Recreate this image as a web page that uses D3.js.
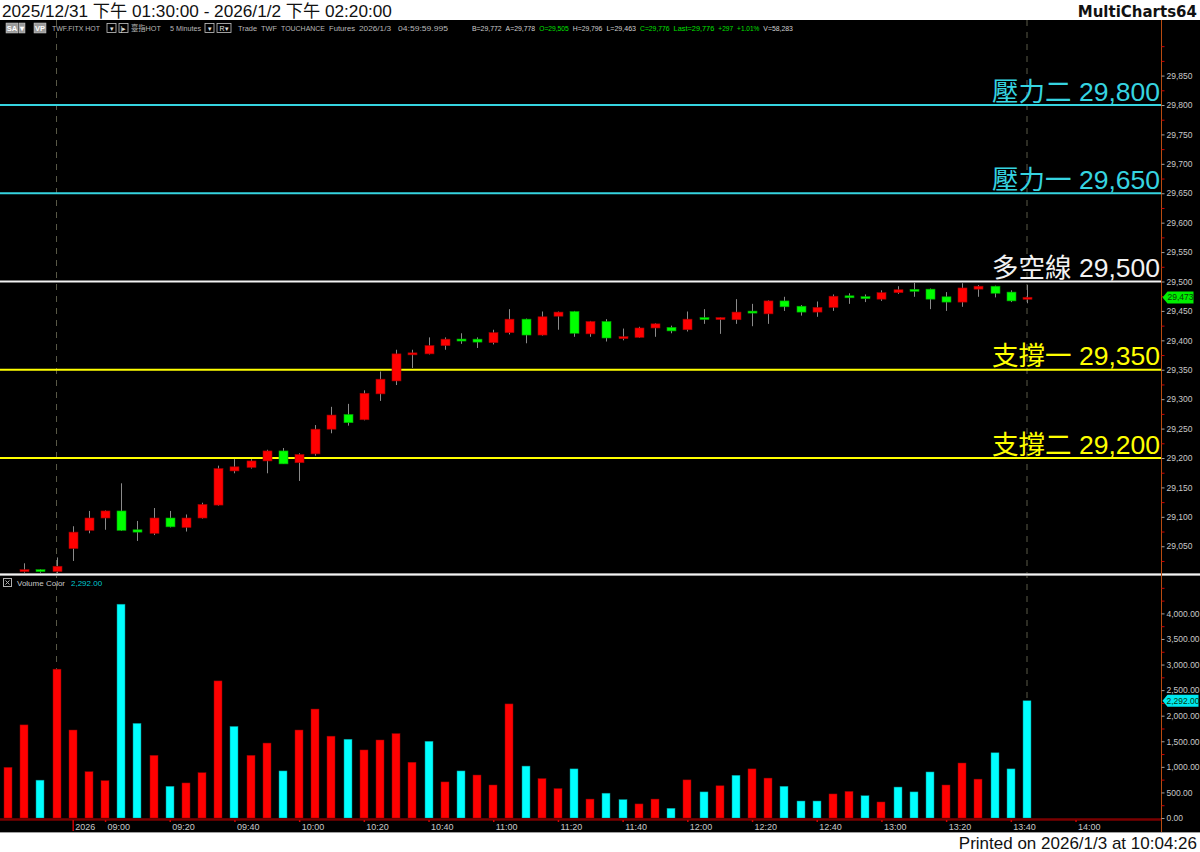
<!DOCTYPE html>
<html><head><meta charset="utf-8">
<script src="https://cdn.jsdelivr.net/npm/d3@7/dist/d3.min.js"></script>
<style>
html,body{margin:0;padding:0;background:#fff;}
svg{display:block;}
</style></head><body>
<svg id="chart" width="1200" height="852"></svg>
<script>
// ---- data ----
const opens  = [28992,29007,29010,29007,29046,29077,29098,29110,29078,29072,29098,29082,29098,29120,29178,29184,29195,29212,29192,29207,29249,29274,29265,29309,29331,29376,29377,29391,29402,29402,29396,29413,29436,29409,29441,29449,29411,29432,29403,29405,29421,29422,29418,29438,29436,29435,29449,29445,29467,29458,29448,29456,29475,29474,29470,29481,29486,29487,29474,29465,29487,29492,29482,29470];
const highs  = [29003,29021,29011,29031,29084,29110,29111,29157,29093,29115,29110,29104,29124,29187,29198,29198,29214,29217,29208,29256,29287,29292,29315,29347,29384,29384,29405,29405,29412,29405,29418,29453,29437,29449,29449,29450,29433,29436,29420,29423,29429,29425,29449,29453,29439,29470,29462,29468,29474,29460,29466,29478,29480,29478,29485,29492,29498,29488,29482,29497,29494,29493,29485,29494];
const lows   = [28985,29005,29005,29004,29025,29072,29078,29076,29059,29069,29082,29075,29097,29119,29174,29182,29174,29190,29161,29204,29242,29255,29264,29297,29324,29353,29376,29384,29394,29387,29393,29410,29395,29408,29418,29406,29406,29398,29400,29404,29406,29412,29415,29428,29411,29428,29424,29428,29450,29442,29440,29450,29462,29465,29467,29479,29474,29453,29450,29457,29474,29473,29465,29463];
const closes = [29000,29010,29007,29016,29074,29098,29110,29077,29074,29098,29083,29098,29121,29182,29185,29195,29212,29190,29206,29249,29273,29260,29310,29334,29377,29378,29391,29402,29399,29397,29413,29436,29409,29440,29448,29412,29432,29404,29406,29421,29428,29416,29436,29436,29438,29448,29447,29467,29457,29448,29456,29475,29473,29471,29481,29486,29484,29470,29465,29489,29492,29480,29467,29473];
const volumes = [990,1820,740,2910,1720,905,730,4180,1850,1225,620,685,885,2680,1790,1225,1465,920,1720,2130,1600,1540,1330,1525,1650,1090,1500,705,920,840,645,2230,1015,770,575,960,370,485,360,275,370,190,745,510,630,835,960,780,620,332,332,470,520,435,313,605,510,900,645,1075,760,1275,960,2292];
const volumeDir = ["up","up","down","up","up","up","up","down","down","up","down","up","up","up","down","up","up","down","up","up","up","down","up","up","up","up","down","up","down","up","up","up","down","up","up","down","up","down","down","up","up","down","up","down","up","down","up","up","down","down","down","up","up","down","up","down","down","down","up","up","up","down","down","down"];
const xTickIndex  = [4,6,10,14,18,22,26,30,34,38,42,46,50,54,58,62,66];
const xTickLabels = ["2026","09:00","09:20","09:40","10:00","10:20","10:40","11:00","11:20","11:40","12:00","12:20","12:40","13:00","13:20","13:40","14:00"];
const priceTicks  = [29050,29100,29150,29200,29250,29300,29350,29400,29450,29500,29550,29600,29650,29700,29750,29800,29850];
const volumeTicks = [0,500,1000,1500,2000,2500,3000,3500,4000];
const levelNames  = ["壓力二","壓力一","多空線","支撐一","支撐二"];
const levelValues = [29800,29650,29500,29350,29200];
const levelColors = ["#36d4e0","#36d4e0","#f2f2f2","#ffff00","#ffff00"];
const sessionBreaks = [3,63];
const lastPrice = 29473;
const lastVolume = 2292;
const quoteItems = ["B=29,772","A=29,778","O=29,505","H=29,796","L=29,463","C=29,776","Last=29,776","+297","+1.01%","V=58,283"];
const quoteGreen = [false,false,true,false,false,true,true,true,true,false];

// ---- layout ----
const W = 1200, H = 852;
const svg = d3.select("#chart");
const axisX = 1161.5;
const fontUI = "'Liberation Sans', Arial, 'Noto Sans CJK TC', sans-serif";

const x = d3.scaleLinear().domain([0, 63]).range([8, 1027]);
const yP = d3.scaleLinear().domain([29200, 29800]).range([458, 105]);
const yV = d3.scaleLinear().domain([0, 4000]).range([818, 613.4]);

// backgrounds
svg.append("rect").attr("x",0).attr("y",0).attr("width",W).attr("height",H).attr("fill","#fff");
svg.append("rect").attr("x",0).attr("y",20).attr("width",W).attr("height",812).attr("fill","#000");
svg.append("line").attr("x1",0).attr("x2",W).attr("y1",832.5).attr("y2",832.5).attr("stroke","#a0a0a0").attr("stroke-width",1);

// header texts
svg.append("text").attr("x",2).attr("y",16.5).attr("font-family",fontUI).attr("font-size",17.2).attr("fill","#111")
  .text("2025/12/31 下午 01:30:00 - 2026/1/2 下午 02:20:00");
svg.append("text").attr("x",1197).attr("y",16.5).attr("text-anchor","end").attr("font-family","'DejaVu Sans', 'Liberation Sans', sans-serif")
  .attr("font-weight","bold").attr("font-size",15).attr("fill","#111").text("MultiCharts64");
svg.append("text").attr("x",1197).attr("y",849).attr("text-anchor","end").attr("font-family",fontUI).attr("font-size",17).attr("fill","#111")
  .text("Printed on 2026/1/3 at 10:04:26");

// clip paths
const defs = svg.append("defs");
defs.append("clipPath").attr("id","clipP").append("rect").attr("x",0).attr("y",20).attr("width",axisX).attr("height",553);
defs.append("clipPath").attr("id","clipV").append("rect").attr("x",0).attr("y",577).attr("width",axisX).attr("height",242);

// session dashed lines
svg.append("g").selectAll("line").data(sessionBreaks).join("line")
  .attr("x1",d=>x(d)).attr("x2",d=>x(d)).attr("y1",20).attr("y2",818)
  .attr("stroke","#5a5a48").attr("stroke-width",1).attr("stroke-dasharray","6,6");

// level lines
const gL = svg.append("g");
levelValues.forEach((v,i)=>{
  gL.append("line").attr("x1",0).attr("x2",axisX).attr("y1",yP(v)).attr("y2",yP(v))
    .attr("stroke",levelColors[i]).attr("stroke-width",2.2);
  gL.append("text").attr("x",1160).attr("y",yP(v)-4.5).attr("text-anchor","end")
    .attr("font-family",fontUI).attr("font-size",26.5).attr("fill",levelColors[i])
    .text(levelNames[i] + " " + d3.format(",")(v));
});

// candles
const idx = d3.range(opens.length);
const gC = svg.append("g").attr("clip-path","url(#clipP)");
gC.selectAll("line.wick").data(idx).join("line").attr("class","wick")
  .attr("x1",i=>Math.round(x(i))+0.5).attr("x2",i=>Math.round(x(i))+0.5)
  .attr("y1",i=>yP(highs[i])).attr("y2",i=>yP(lows[i]))
  .attr("stroke","#8a8a8a").attr("stroke-width",1);
gC.selectAll("rect.body").data(idx).join("rect").attr("class","body")
  .attr("x",i=>Math.round(x(i))-4).attr("width",9)
  .attr("y",i=>{const t=yP(Math.max(opens[i],closes[i])), b=yP(Math.min(opens[i],closes[i])); return (b-t)<2? (t+b)/2-1 : t;})
  .attr("height",i=>Math.max(2, yP(Math.min(opens[i],closes[i]))-yP(Math.max(opens[i],closes[i]))))
  .attr("fill",i=>closes[i]>=opens[i]?"#ff0000":"#00ff00")
  .attr("stroke",i=>closes[i]>=opens[i]?"#a00000":"#00a000").attr("stroke-width",0.6);

// panel separator
svg.append("rect").attr("x",0).attr("y",573).attr("width",W).attr("height",3).attr("fill","#9a9a9a");
svg.append("line").attr("x1",0).attr("x2",W).attr("y1",574.5).attr("y2",574.5).attr("stroke","#f4f4f4").attr("stroke-width",1);

// volume bars
const gV = svg.append("g").attr("clip-path","url(#clipV)");
gV.selectAll("rect").data(idx).join("rect")
  .attr("x",i=>Math.round(x(i))-4).attr("width",8)
  .attr("y",i=>yV(volumes[i])).attr("height",i=>yV(0)-yV(volumes[i]))
  .attr("fill",i=>volumeDir[i]==="up"?"#ff0000":"#00ffff")
  .attr("stroke",i=>volumeDir[i]==="up"?"#900000":"#008888").attr("stroke-width",0.5);

// x axis baseline
svg.append("line").attr("x1",0).attr("x2",axisX).attr("y1",819.5).attr("y2",819.5).attr("stroke","#7a0000").attr("stroke-width",2.5);
const xAxis = d3.axisBottom(x).tickValues(xTickIndex).tickFormat((d,i)=>xTickLabels[i]).tickSize(2).tickPadding(3);
const gx = svg.append("g").attr("transform","translate(0,820)").call(xAxis);
gx.select(".domain").remove();
gx.selectAll(".tick line").attr("stroke","#d00000").attr("stroke-width",1.5);
gx.selectAll(".tick text").attr("text-anchor","start").attr("dx",2).attr("y",4)
  .attr("font-family",fontUI).attr("font-size",9).attr("fill","#c8c8c8");
gx.selectAll(".tick").filter(d=>d===4).select("line").attr("y2",11);

// right axes
svg.append("line").attr("x1",axisX).attr("x2",axisX).attr("y1",20).attr("y2",832).attr("stroke","#b84a10").attr("stroke-width",1);
const pAxis = d3.axisRight(yP).tickValues(priceTicks).tickFormat(d3.format(",")).tickSize(3).tickPadding(2);
const gp = svg.append("g").attr("transform",`translate(${axisX},0)`).call(pAxis);
gp.select(".domain").remove();
gp.selectAll(".tick line").attr("stroke","#a0a0a0");
gp.selectAll(".tick text").attr("font-family",fontUI).attr("font-size",8.5).attr("fill","#c8c8c8");
const pMinor = d3.axisRight(yP).tickValues(priceTicks.map(v=>v-25).concat([29875,29900])).tickFormat("").tickSize(3);
const gpm = svg.append("g").attr("transform",`translate(${axisX},0)`).call(pMinor);
gpm.select(".domain").remove();
gpm.selectAll(".tick line").attr("stroke","#d00000");

const vAxis = d3.axisRight(yV).tickValues(volumeTicks).tickFormat(d3.format(",.2f")).tickSize(3).tickPadding(2);
const gv = svg.append("g").attr("transform",`translate(${axisX},0)`).call(vAxis);
gv.select(".domain").remove();
gv.selectAll(".tick line").attr("stroke","#a0a0a0");
gv.selectAll(".tick text").attr("font-family",fontUI).attr("font-size",8.5).attr("fill","#c8c8c8");
const vMinor = d3.axisRight(yV).tickValues(volumeTicks.map(v=>v+250).concat([4500])).tickFormat("").tickSize(3);
const gvm = svg.append("g").attr("transform",`translate(${axisX},0)`).call(vMinor);
gvm.select(".domain").remove();
gvm.selectAll(".tick line").attr("stroke","#d00000");

// value tags
function tag(yv, w, fill, label){
  const g = svg.append("g").attr("transform",`translate(${axisX+1},${yv})`);
  g.append("path").attr("d",`M0,0 L5,-6 L${w},-6 L${w},6 L5,6 Z`).attr("fill",fill);
  g.append("text").attr("x",5+(w-5)/2).attr("y",3).attr("text-anchor","middle")
    .attr("font-family",fontUI).attr("font-size",8.5).attr("fill","#0a3a0a").text(label);
}
tag(yP(lastPrice), 31, "#00ee00", d3.format(",")(lastPrice));
tag(yV(lastVolume), 36, "#00e8f0", d3.format(",.2f")(lastVolume));

// toolbar row
const tb = svg.append("g").attr("font-family",fontUI).attr("font-size",7.5).attr("fill","#b8b8b8");
function btn(x0,w,label){
  tb.append("rect").attr("x",x0).attr("y",23).attr("width",w).attr("height",10).attr("fill","#9a9a9a").attr("stroke","#d0d0d0").attr("stroke-width",0.5);
  if(label) tb.append("text").attr("x",x0+w/2).attr("y",31).attr("text-anchor","middle").attr("fill","#fff").attr("font-weight","bold").text(label);
}
btn(6,12,"SA"); btn(19,6,"▾"); btn(34,12,"VP");
function dd(x0,label){
  tb.append("rect").attr("x",x0).attr("y",23.5).attr("width",9).attr("height",9).attr("fill","#000").attr("stroke","#c8c8c8").attr("stroke-width",0.8);
  tb.append("text").attr("x",x0+4.5).attr("y",31).attr("text-anchor","middle").attr("font-size",7).attr("fill","#e0e0e0").text(label);
}
dd(107,"▾"); dd(119,"|▸"); dd(205,"▾");
tb.append("rect").attr("x",217).attr("y",23.5).attr("width",14).attr("height",9).attr("fill","#000").attr("stroke","#c8c8c8").attr("stroke-width",0.8);
tb.append("text").attr("x",224).attr("y",31).attr("text-anchor","middle").attr("font-size",7).attr("fill","#e0e0e0").text("R▾");
const tbTexts = [
  [52,"TWF.FITX HOT",48],[131,"臺指HOT",30],[170,"5 Minutes",31],
  [238,"Trade",19],[261,"TWF",16],[281,"TOUCHANCE",44],[329,"Futures",26],
  [359,"2026/1/3",32],[398,"04:59:59.995",50]
];
tbTexts.forEach(t=>tb.append("text").attr("x",t[0]).attr("y",31).attr("fill","#b8b8b8")
  .attr("textLength",t[2]).attr("lengthAdjust","spacingAndGlyphs").text(t[1]));
// quote items laid out sequentially
let qx = 472;
quoteItems.forEach((s,i)=>{
  const w = s.length*3.7;
  tb.append("text").attr("x",qx).attr("y",31).attr("fill",quoteGreen[i]?"#00e000":"#d0d0d0")
    .attr("textLength",w).attr("lengthAdjust","spacingAndGlyphs").text(s);
  qx += w + 4;
});

// volume panel legend
const vl = svg.append("g").attr("font-family",fontUI).attr("font-size",8);
vl.append("rect").attr("x",3.5).attr("y",578.5).attr("width",8).attr("height",8).attr("fill","none").attr("stroke","#b0b0b0");
vl.append("path").attr("d","M5.5,580.5 L9.5,584.5 M9.5,580.5 L5.5,584.5").attr("stroke","#b0b0b0");
vl.append("text").attr("x",17).attr("y",585.5).attr("fill","#c8c8c8").text("Volume Color");
vl.append("text").attr("x",71).attr("y",585.5).attr("fill","#00c8d0").text(d3.format(",.2f")(lastVolume));
</script>
</body></html>
